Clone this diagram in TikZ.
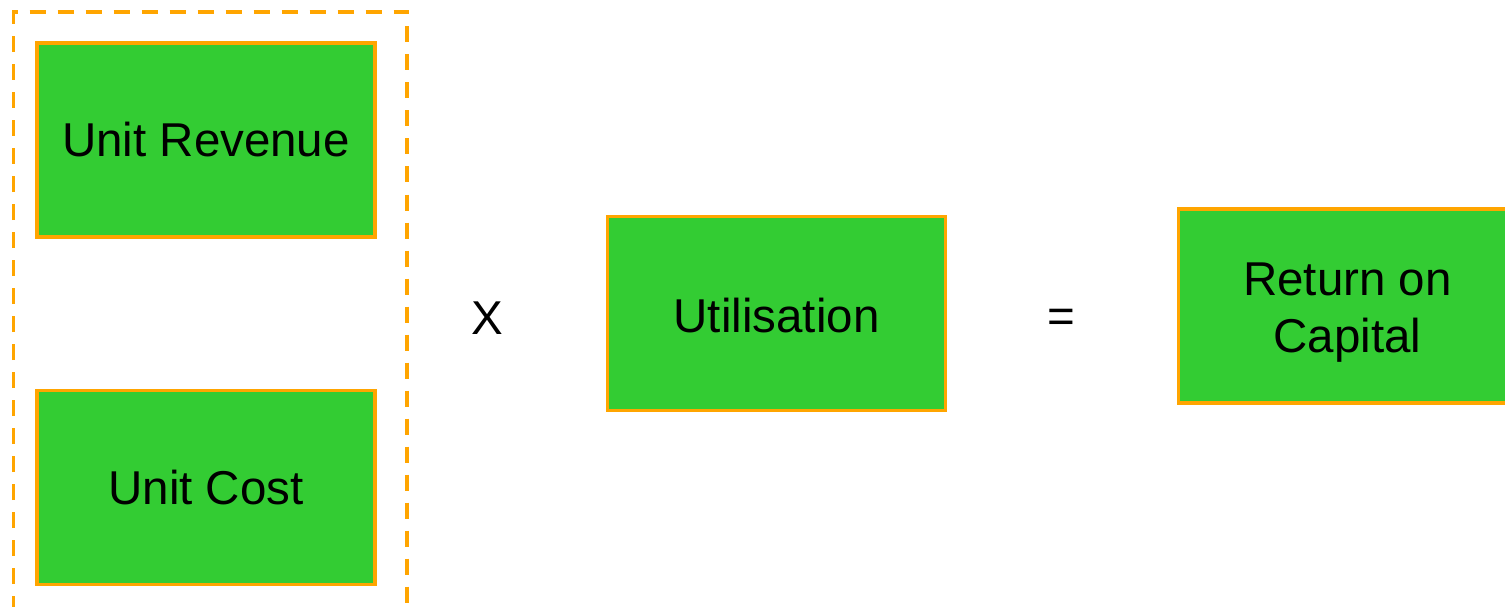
\documentclass[tikz,border=0pt]{standalone}
\usepackage{fontspec}
\setmainfont{Liberation Sans}
\definecolor{boxgreen}{HTML}{33CC33}
\definecolor{edgeorange}{HTML}{FFA500}
% move a label down without changing the space it takes
\newcommand{\lowerby}[2]{\raisebox{-#1}[\height][\depth]{#2}}
\begin{document}
\begin{tikzpicture}[x=1pt,y=-1pt,
  factor/.style={draw=edgeorange, fill=boxgreen, line width=3.5pt,
    minimum width=338pt, minimum height=194pt, inner sep=0pt,
    font=\fontsize{47.5}{57}\selectfont, align=center, text=black},
  sign/.style={font=\fontsize{47.5}{57}\selectfont, text=black, inner sep=0pt},
  group/.style={draw=edgeorange, line width=3.8pt, dash pattern=on 16pt off 12pt}]
\useasboundingbox (0,0) rectangle (1505,607);
\clip (0,0) rectangle (1505,607);
% grouping frame round the two unit measures
\draw[group] (13.5,640) -- (13.5,12) -- (407,12) -- (407,640);
% factor boxes
\node[factor] (rev)  at (206,140) {Unit Revenue};
\node[factor] (cost) at (206,487.5) {Unit Cost};
\node[factor] (util) at (776.5,313.5) {\lowerby{2pt}{Utilisation}};
\node[factor] (roc)  at (1347.5,306)
  {\lowerby{7pt}{\begin{tabular}{@{}c@{}}Return on\\Capital\end{tabular}}};
% operators
\node[sign] (times)  at (487,318) {X};
\node[sign] (equals) at (1061,317) {\lowerby{4pt}{=}};
\end{tikzpicture}
\end{document}
